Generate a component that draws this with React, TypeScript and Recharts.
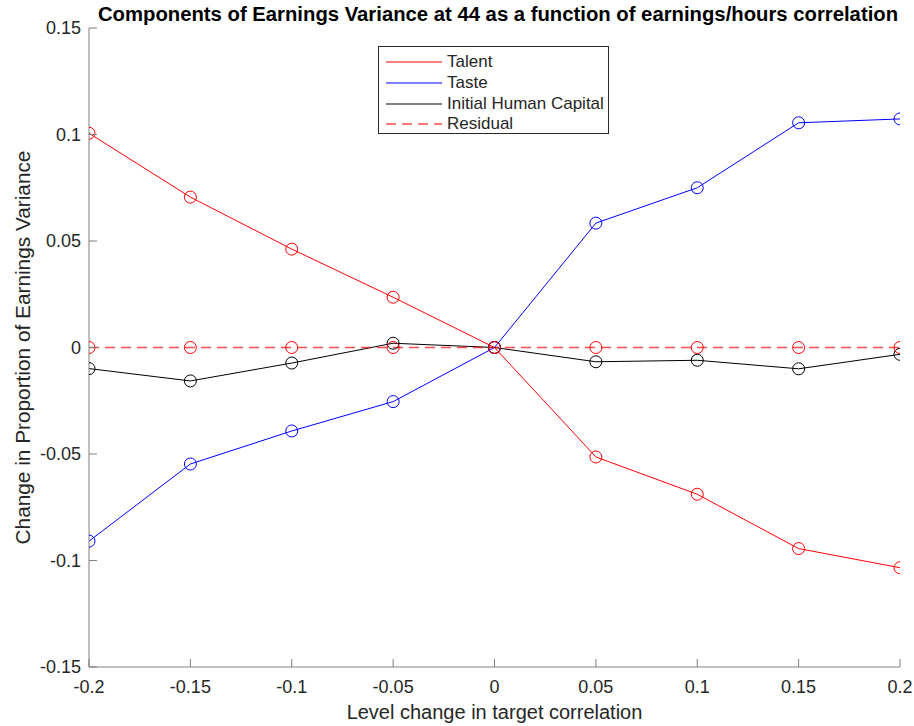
import React from 'react';
import { LineChart, Line, XAxis, YAxis, Legend } from 'recharts';

// change in the target earnings/hours correlation
const correlationShift = [-0.2, -0.15, -0.1, -0.05, 0, 0.05, 0.1, 0.15, 0.2];

// change in each component's share of earnings variance at age 44
const talent = [0.1006, 0.0706, 0.0462, 0.0236, 0, -0.0514, -0.0689, -0.0944, -0.1034];
const taste = [-0.0909, -0.0547, -0.0392, -0.0254, 0, 0.0584, 0.075, 0.1055, 0.1073];
const initialHumanCapital = [-0.0099, -0.0157, -0.0073, 0.002, 0, -0.0067, -0.006, -0.01, -0.0032];
const residual = [0, 0, 0, 0, 0, 0, 0, 0, 0];

const xTicks = [-0.2, -0.15, -0.1, -0.05, 0, 0.05, 0.1, 0.15, 0.2];
const yTicks = [-0.15, -0.1, -0.05, 0, 0.05, 0.1, 0.15];

const series = [
  { key: 'talent', name: 'Talent', color: '#ff0000', dash: undefined, width: 1, opacity: 1 },
  { key: 'taste', name: 'Taste', color: '#0000ff', dash: undefined, width: 1, opacity: 1 },
  { key: 'ihc', name: 'Initial Human Capital', color: '#000000', dash: undefined, width: 1, opacity: 1 },
  { key: 'residual', name: 'Residual', color: '#ff0000', dash: '10 6', width: 1.5, opacity: 0.7 },
];

const rows = correlationShift.map((x, i) => ({
  x,
  talent: talent[i],
  taste: taste[i],
  ihc: initialHumanCapital[i],
  residual: residual[i],
}));

const FONT = '"Liberation Sans", Arial, Helvetica, sans-serif';
const AXIS = '#808080';
const TEXT = '#262626';
const TICK = 8;

const fmt = (v: number) => String(v);

// matlab-style ticks: marks point inward from the box
const BottomTick = ({ x, y, payload }: any) => (
  <g>
    <line x1={x} y1={y} x2={x} y2={y - TICK} stroke={AXIS} />
    <text x={x} y={y + 26} textAnchor="middle" fill={TEXT} fontSize={18} fontFamily={FONT}>
      {fmt(payload.value)}
    </text>
  </g>
);

const TopTick = ({ x, y }: any) => <line x1={x} y1={y} x2={x} y2={y + TICK} stroke={AXIS} />;

const LeftTick = ({ x, y, payload }: any) => (
  <g>
    <line x1={x} y1={y} x2={x + TICK} y2={y} stroke={AXIS} />
    <text x={x - 8} y={y + 6} textAnchor="end" fill={TEXT} fontSize={18} fontFamily={FONT}>
      {fmt(payload.value)}
    </text>
  </g>
);

const RightTick = ({ x, y }: any) => <line x1={x} y1={y} x2={x - TICK} y2={y} stroke={AXIS} />;

const LegendBox = () => (
  <div
    style={{
      border: '1px solid #262626',
      background: '#fff',
      width: 231,
      height: 88,
      boxSizing: 'border-box',
      padding: '5px 0 0 7px',
      fontFamily: FONT,
      fontSize: 17,
      color: TEXT,
    }}
  >
    {series.map((s) => (
      <div key={s.key} style={{ display: 'flex', alignItems: 'center', height: 20.7 }}>
        <svg width={56} height={10} style={{ marginRight: 5 }}>
          <line x1={0} y1={5} x2={56} y2={5} stroke={s.color} strokeOpacity={s.opacity} strokeWidth={s.width} strokeDasharray={s.dash} />
        </svg>
        <span>{s.name}</span>
      </div>
    ))}
  </div>
);

export default function App() {
  return (
    <div style={{ position: 'absolute', left: 0, top: 0, width: 914, height: 726, background: '#fff' }}>
      <div
        style={{
          position: 'absolute',
          left: 89,
          width: 818,
          top: 4,
          textAlign: 'center',
          fontFamily: FONT,
          fontWeight: 'bold',
          fontSize: 20.3,
          lineHeight: '20px',
          color: '#000',
          whiteSpace: 'nowrap',
        }}
      >
        Components of Earnings Variance at 44 as a function of earnings/hours correlation
      </div>
      <LineChart width={914} height={726} data={rows} margin={{ top: 28, right: 14, bottom: 0, left: 0 }}>
        <XAxis
          dataKey="x"
          type="number"
          domain={[-0.2, 0.2]}
          ticks={xTicks}
          allowDataOverflow
          height={59}
          tickLine={false}
          tickSize={0}
          tickMargin={0}
          tick={<BottomTick />}
          axisLine={{ stroke: AXIS }}
          label={({ viewBox }: any) => (
            <text
              x={viewBox.x + viewBox.width / 2}
              y={viewBox.y + 52}
              textAnchor="middle"
              fill={TEXT}
              fontSize={20}
              fontFamily={FONT}
            >
              Level change in target correlation
            </text>
          )}
        />
        <XAxis
          xAxisId="top"
          dataKey="x"
          type="number"
          orientation="top"
          domain={[-0.2, 0.2]}
          ticks={xTicks}
          allowDataOverflow
          height={0}
          tickLine={false}
          tickSize={0}
          tickMargin={0}
          tick={<TopTick />}
          axisLine={{ stroke: AXIS }}
        />
        <YAxis
          type="number"
          domain={[-0.15, 0.15]}
          ticks={yTicks}
          allowDataOverflow
          width={89}
          tickLine={false}
          tickSize={0}
          tickMargin={0}
          tick={<LeftTick />}
          axisLine={{ stroke: AXIS }}
          label={({ viewBox }: any) => {
            const cx = viewBox.x + 22;
            const cy = viewBox.y + viewBox.height / 2;
            return (
              <text
                x={cx}
                y={cy}
                transform={`rotate(-90 ${cx} ${cy})`}
                textAnchor="middle"
                dominantBaseline="central"
                fill={TEXT}
                fontSize={20.8}
                fontFamily={FONT}
              >
                Change in Proportion of Earnings Variance
              </text>
            );
          }}
        />
        <YAxis
          yAxisId="right"
          type="number"
          orientation="right"
          domain={[-0.15, 0.15]}
          ticks={yTicks}
          allowDataOverflow
          width={0}
          tickLine={false}
          tickSize={0}
          tickMargin={0}
          tick={<RightTick />}
          axisLine={{ stroke: AXIS }}
        />
        <Legend
          content={<LegendBox />}
          layout="vertical"
          verticalAlign="middle"
          align="center"
          wrapperStyle={{ left: 378, top: 46, width: 'auto', height: 'auto' }}
        />
        {series.map((s) => (
          <Line
            key={s.key}
            dataKey={s.key}
            name={s.name}
            type="linear"
            stroke={s.color}
            strokeWidth={s.width}
            strokeOpacity={s.opacity}
            strokeDasharray={s.dash}
            dot={{ r: 6, fill: 'none', stroke: s.color, strokeWidth: 1, strokeOpacity: 1, strokeDasharray: '' }}
            activeDot={false}
            isAnimationActive={false}
          />
        ))}
      </LineChart>
    </div>
  );
}
